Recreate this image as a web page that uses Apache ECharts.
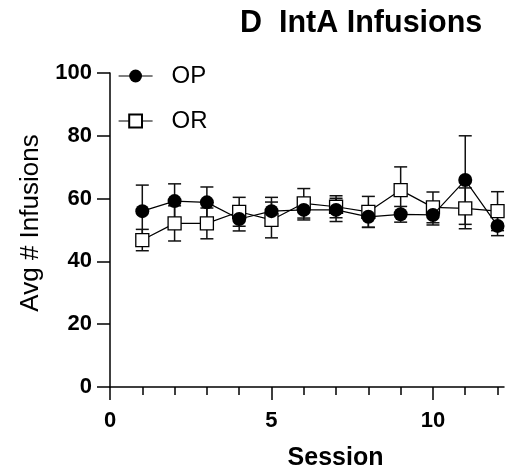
<!DOCTYPE html>
<html>
<head>
<meta charset="utf-8">
<script src="https://cdn.jsdelivr.net/npm/echarts@6/dist/echarts.min.js"></script>
<style>html,body{margin:0;padding:0;background:#fff}#c{width:505px;height:474px}</style>
</head>
<body>
<div id="c"></div>
<script>
var sessions = [1, 2, 3, 4, 5, 6, 7, 8, 9, 10, 11, 12];
var opMean = [56.0, 59.2, 58.8, 53.5, 56.0, 56.4, 56.4, 54.2, 55.0, 54.8, 65.9, 51.3];
var opErr  = [8.3, 5.5, 4.9, 3.8, 4.4, 3.2, 3.7, 3.4, 2.5, 3.2, 14.1, 3.1];
var orMean = [46.8, 52.1, 52.1, 55.8, 53.2, 58.5, 57.4, 55.8, 62.7, 57.2, 56.9, 56.0];
var orErr  = [3.4, 5.6, 4.9, 4.6, 5.7, 4.7, 3.5, 4.9, 7.4, 4.9, 6.5, 6.2];
var xMajorTicks = [0, 5, 10];
var xMinorTicks = [1, 2, 3, 4, 6, 7, 8, 9, 11, 12];

var FONT = '"Liberation Sans", Arial, Helvetica, sans-serif';

function pts(m) { return sessions.map(function (s, i) { return [s, m[i]]; }); }
function errs(m, e) { return sessions.map(function (s, i) { return [s, m[i] - e[i], m[i] + e[i]]; }); }

function renderErr(params, api) {
  var x = api.value(0);
  var lo = api.coord([x, api.value(1)]);
  var hi = api.coord([x, api.value(2)]);
  var hw = 6.5;
  var st = { stroke: '#111', lineWidth: 1.5 };
  return {
    type: 'group',
    children: [
      { type: 'line', shape: { x1: hi[0], y1: hi[1], x2: lo[0], y2: lo[1] }, style: st },
      { type: 'line', shape: { x1: hi[0] - hw, y1: hi[1], x2: hi[0] + hw, y2: hi[1] }, style: st },
      { type: 'line', shape: { x1: lo[0] - hw, y1: lo[1], x2: lo[0] + hw, y2: lo[1] }, style: st }
    ]
  };
}

var chart = echarts.init(document.getElementById('c'));
chart.setOption({
  animation: false,
  backgroundColor: '#fff',
  title: {
    text: 'D  IntA Infusions',
    left: 240, top: 8, padding: 0,
    textStyle: { fontFamily: FONT, fontWeight: 'bold', fontSize: 30.5, color: '#000' }
  },
  legend: {
    orient: 'vertical',
    left: 118, top: 64,
    padding: 0,
    itemWidth: 34, itemHeight: 16,
    itemGap: 21,
    data: ['OP', 'OR'],
    lineStyle: { width: 1.2, color: '#000' },
    textStyle: { fontFamily: FONT, fontSize: 24, color: '#000', padding: [0, 0, 0, 14] }
  },
  grid: { left: 110, right: 1, top: 73, bottom: 87, outerBoundsMode: 'none', containLabel: false },
  xAxis: [{
    type: 'value', min: 0, max: 12.2,
    name: 'Session', nameLocation: 'middle', nameGap: 59,
    nameTextStyle: { fontFamily: FONT, fontWeight: 'bold', fontSize: 25, color: '#000', padding: [0, 0, 0, 57] },
    axisLine: { onZero: false, lineStyle: { color: '#000', width: 1.5 } },
    axisTick: { customValues: xMajorTicks, length: 13, lineStyle: { color: '#000', width: 1.5 } },
    axisLabel: { customValues: xMajorTicks, margin: 23, fontFamily: FONT, fontWeight: 'bold', fontSize: 22, color: '#000' },
    splitLine: { show: false }
  }, {
    type: 'value', min: 0, max: 12.2, position: 'bottom',
    axisLine: { show: false, onZero: false },
    axisTick: { customValues: xMinorTicks, length: 8, lineStyle: { color: '#000', width: 1.5 } },
    axisLabel: { show: false },
    splitLine: { show: false }
  }],
  yAxis: {
    type: 'value', min: 0, max: 100, interval: 20,
    name: 'Avg # Infusions', nameLocation: 'middle', nameGap: 66,
    nameTextStyle: { fontFamily: FONT, fontSize: 26, color: '#000', padding: [0, 0, 0, 14] },
    axisLine: { show: true, onZero: false, lineStyle: { color: '#000', width: 1.5 } },
    axisTick: { show: true, length: 13, lineStyle: { color: '#000', width: 1.5 } },
    axisLabel: { margin: 18, fontFamily: FONT, fontWeight: 'bold', fontSize: 22, color: '#000' },
    splitLine: { show: false }
  },
  series: [
    { type: 'custom', name: 'OR err', renderItem: renderErr, data: errs(orMean, orErr), z: 1, silent: true },
    { type: 'custom', name: 'OP err', renderItem: renderErr, data: errs(opMean, opErr), z: 1, silent: true },
    {
      type: 'line', name: 'OR', data: pts(orMean), z: 3,
      symbol: 'rect', symbolSize: 13,
      itemStyle: { color: '#fff', borderColor: '#000', borderWidth: 1.3 },
      lineStyle: { color: '#000', width: 1.2 }
    },
    {
      type: 'line', name: 'OP', data: pts(opMean), z: 4,
      symbol: 'circle', symbolSize: 14,
      itemStyle: { color: '#000', borderColor: '#000', borderWidth: 0 },
      lineStyle: { color: '#000', width: 1.2 }
    }
  ]
});
</script>
</body>
</html>
